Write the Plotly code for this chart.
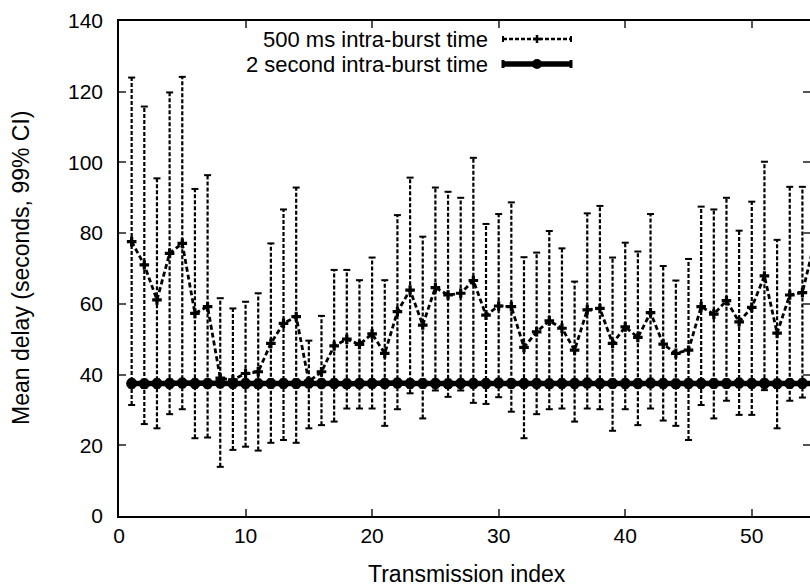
import plotly.graph_objects as go

# Transmission index along the burst
idx = list(range(1, 56))

# 500 ms intra-burst time: mean delay and 99% confidence bounds (seconds)
mean_500 = [77.6, 71.0, 61.1, 74.3, 77.1, 57.3, 59.2, 39.0, 38.5, 40.3,
            40.8, 48.8, 54.5, 56.4, 38.0, 40.8, 48.1, 50.0, 48.5, 51.5,
            46.0, 57.8, 63.9, 54.0, 64.6, 62.5, 63.0, 66.6, 56.8, 59.4,
            59.2, 47.7, 52.1, 55.2, 53.1, 46.9, 58.3, 58.7, 48.8, 53.5,
            50.5, 57.5, 48.6, 46.0, 46.9, 59.2, 57.1, 60.9, 54.9, 59.0,
            67.9, 51.7, 62.5, 63.2, 78.0]
upper_500 = [124.0, 115.8, 95.5, 119.8, 124.2, 92.5, 96.4, 61.6, 58.7, 60.6,
             63.0, 77.1, 86.7, 92.9, 49.6, 56.6, 69.6, 69.6, 66.7, 73.1,
             66.7, 85.1, 95.7, 79.0, 92.9, 91.7, 90.0, 101.3, 82.6, 85.4,
             88.7, 73.2, 74.5, 80.6, 75.7, 66.3, 85.6, 87.7, 73.1, 77.3,
             74.8, 85.4, 70.7, 66.6, 72.7, 87.5, 86.7, 90.0, 80.7, 88.9,
             100.2, 78.1, 93.1, 93.1, 112.0]
lower_500 = [31.4, 26.0, 24.8, 28.8, 30.2, 22.0, 22.2, 13.9, 18.7, 19.6,
             18.5, 20.7, 21.5, 20.7, 24.8, 25.7, 26.7, 30.4, 30.4, 30.4,
             25.5, 30.2, 34.7, 27.6, 35.5, 33.7, 35.5, 32.0, 31.7, 33.6,
             29.5, 22.0, 28.8, 30.2, 30.4, 26.7, 30.4, 30.2, 24.1, 30.2,
             25.7, 30.4, 27.0, 25.5, 21.5, 31.4, 27.6, 32.6, 28.6, 28.6,
             35.6, 24.8, 32.6, 33.5, 42.0]

# 2 second intra-burst time: mean delay and CI half-width (seconds)
mean_2s = [37.5, 37.4, 37.5, 37.5, 37.6, 37.5, 37.5, 37.6, 37.5, 37.5,
           37.4, 37.5, 37.5, 37.5, 37.6, 37.5, 37.5, 37.4, 37.5, 37.5,
           37.5, 37.6, 37.5, 37.5, 37.5, 37.4, 37.5, 37.5, 37.5, 37.6,
           37.5, 37.5, 37.5, 37.4, 37.5, 37.5, 37.6, 37.5, 37.5, 37.5,
           37.5, 37.6, 37.5, 37.4, 37.5, 37.5, 37.5, 37.5, 37.6, 37.5,
           37.5, 37.4, 37.5, 37.5, 37.5]
ci_2s = [1.2] * len(mean_2s)

series_names = ["500 ms intra-burst time", "2 second intra-burst time"]
x_ticks = [0, 10, 20, 30, 40, 50]
y_ticks = [0, 20, 40, 60, 80, 100, 120, 140]
x_title = "Transmission index"
y_title = "Mean delay (seconds, 99% CI)"

W, H = 810, 586
L, T, B = 119, 21, 70
X_MAX = 54.6
FONT = "Liberation Sans, Arial, Helvetica, sans-serif"


def px(xp):
    return (xp - L) / (W - L)


def py(yp):
    return (H - B - yp) / (H - B - T)


fig = go.Figure()

# dashed confidence bars for the 500 ms series
bx, by = [], []
for x, lo, hi in zip(idx, lower_500, upper_500):
    bx += [x, x, None]
    by += [lo, hi, None]
fig.add_trace(go.Scatter(x=bx, y=by, mode="lines", showlegend=False,
                         line=dict(color="black", width=2.2, dash="4px,2px"),
                         hoverinfo="skip"))
fig.add_trace(go.Scatter(x=idx + idx, y=lower_500 + upper_500, mode="markers",
                         showlegend=False, hoverinfo="skip",
                         marker=dict(symbol="line-ew", size=5,
                                     line=dict(color="black", width=2))))
fig.add_trace(go.Scatter(x=idx, y=mean_500, mode="lines+markers",
                         name=series_names[0], showlegend=False,
                         line=dict(color="black", width=2.8, dash="5px,3px"),
                         marker=dict(symbol="cross", size=8, color="black")))

# thick 2 s series on top
fig.add_trace(go.Scatter(x=idx, y=mean_2s, mode="lines+markers",
                         name=series_names[1], showlegend=False,
                         line=dict(color="black", width=5.5),
                         marker=dict(symbol="circle", size=11, color="black"),
                         error_y=dict(type="data", array=ci_2s, color="black",
                                      thickness=2, width=3)))

tick_font = dict(family=FONT, size=21, color="black")
text_font = dict(family=FONT, size=23, color="black")
legend_font = dict(family=FONT, size=22, color="black")

fig.update_layout(
    width=W, height=H,
    margin=dict(l=L, r=0, t=T, b=B),
    paper_bgcolor="white", plot_bgcolor="white",
    font=tick_font,
    showlegend=False,
    xaxis=dict(range=[0, X_MAX], tickvals=x_ticks, ticks="inside", ticklen=7,
               tickcolor="#555", tickwidth=1.5, showline=True, linecolor="black",
               linewidth=1.5, showgrid=False, zeroline=False,
               tickfont=tick_font),
    xaxis2=dict(range=[0, X_MAX], tickvals=x_ticks, ticks="inside", ticklen=7,
                tickcolor="#555", tickwidth=1.5, showline=True, linecolor="black",
                linewidth=1.5, showgrid=False, zeroline=False,
                showticklabels=False, overlaying="x", side="top"),
    yaxis=dict(range=[0, 140], tickvals=y_ticks, ticks="inside", ticklen=7,
               tickcolor="#555", tickwidth=1.5, showline=True, linecolor="black",
               linewidth=1.5, showgrid=False, zeroline=False,
               tickfont=tick_font, ticklabelstandoff=10),
    yaxis2=dict(range=[0, 140], tickvals=y_ticks, ticks="inside", ticklen=7,
                tickcolor="#555", tickwidth=1.5, showline=False,
                showgrid=False, zeroline=False, showticklabels=False,
                overlaying="y", side="right"),
)
# dummy traces so the mirrored axes are rendered
fig.add_trace(go.Scatter(x=[None], y=[None], xaxis="x2", showlegend=False))
fig.add_trace(go.Scatter(x=[None], y=[None], yaxis="y2", showlegend=False))

annotations = [
    dict(text=x_title, x=px(467), y=py(574), xref="paper", yref="paper",
         xanchor="center", yanchor="middle", showarrow=False, font=text_font),
    dict(text=y_title, x=px(21), y=py(268), xref="paper", yref="paper",
         xanchor="center", yanchor="middle", textangle=-90, showarrow=False,
         font=text_font),
]

# legend: right-aligned labels with key samples to their right
leg_rows = [39, 64]
key_x0, key_x1, key_mid = 503, 571, 537
for name, yrow in zip(series_names, leg_rows):
    annotations.append(dict(text=name, x=px(489), y=py(yrow), xref="paper",
                            yref="paper", xanchor="right", yanchor="middle",
                            showarrow=False, font=legend_font, borderpad=0))
fig.update_layout(annotations=annotations)

shapes = []
# key for 500 ms series: dashed line, plus marker, end caps
y0 = py(leg_rows[0])
shapes.append(dict(type="line", xref="paper", yref="paper",
                   x0=px(key_x0), x1=px(key_x1), y0=y0, y1=y0,
                   line=dict(color="black", width=2.5, dash="4px,2px")))
for xc in (key_x0, key_x1):
    shapes.append(dict(type="line", xref="paper", yref="paper",
                       x0=px(xc), x1=px(xc), y0=py(leg_rows[0] - 3),
                       y1=py(leg_rows[0] + 3),
                       line=dict(color="black", width=2)))
shapes.append(dict(type="line", xref="paper", yref="paper",
                   x0=px(key_mid), x1=px(key_mid), y0=py(leg_rows[0] - 4),
                   y1=py(leg_rows[0] + 4), line=dict(color="black", width=2.5)))
shapes.append(dict(type="line", xref="paper", yref="paper",
                   x0=px(key_mid - 4), x1=px(key_mid + 4), y0=y0, y1=y0,
                   line=dict(color="black", width=2.5)))
# key for 2 s series: thick line, dot marker, end caps
y1 = py(leg_rows[1])
shapes.append(dict(type="line", xref="paper", yref="paper",
                   x0=px(key_x0), x1=px(key_x1), y0=y1, y1=y1,
                   line=dict(color="black", width=5.5)))
for xc in (key_x0, key_x1):
    shapes.append(dict(type="line", xref="paper", yref="paper",
                       x0=px(xc), x1=px(xc), y0=py(leg_rows[1] - 4),
                       y1=py(leg_rows[1] + 4),
                       line=dict(color="black", width=3)))
shapes.append(dict(type="circle", xref="paper", yref="paper",
                   x0=px(key_mid - 5), x1=px(key_mid + 5),
                   y0=py(leg_rows[1] - 5), y1=py(leg_rows[1] + 5),
                   fillcolor="black", line=dict(color="black", width=0)))
fig.update_layout(shapes=shapes)

fig.write_html("out.html")
